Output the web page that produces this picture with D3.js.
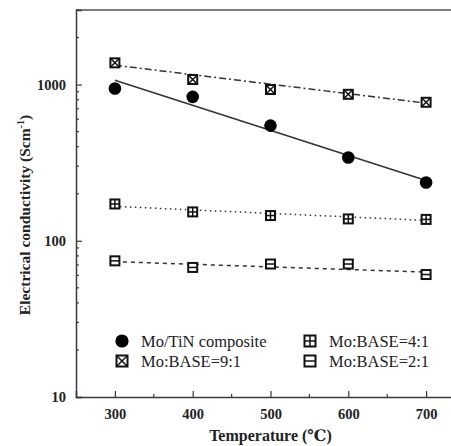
<!DOCTYPE html>
<html>
<head>
<meta charset="utf-8">
<script src="https://cdn.jsdelivr.net/npm/d3@7"></script>
<style>
  body { margin: 0; background: #fff; }
  svg { display: block; }
  text { font-family: "Liberation Serif", "DejaVu Serif", serif; }
</style>
</head>
<body>
<div id="chart"></div>
<script>
// data
const temps = [300, 400, 500, 600, 700];
const mixTiN = [943, 834, 546, 341, 236];     // Mo/TiN composite
const mix91 = [1377, 1077, 929, 866, 770];    // Mo:BASE=9:1
const mix41 = [172, 153, 145, 138, 137];      // Mo:BASE=4:1
const mix21 = [74.4, 67.5, 71, 71, 60.8];     // Mo:BASE=2:1

// fitted lines, start (300) and end (700)
const fitX = [300, 700];
const fitTiN = [1066, 243];
const fit91 = [1330, 760];
const fit41 = [166, 135];
const fit21 = [73.5, 63];

const xTicks = [300, 400, 500, 600, 700];
const yTicks = [10, 100, 1000];

const W = 451, H = 446;
const padLeft = 76, padTop = 10, axisY = 397;

const svg = d3.select("#chart").append("svg")
  .attr("width", W)
  .attr("height", H);

const x = d3.scaleLinear().domain([250, 750]).range([padLeft, padLeft + 389]);
const y = d3.scaleLog().domain([10, 3000]).range([axisY, padTop]);

const axisCol = "#3a3a3a";

// top border (right side is cut off in the picture)
svg.append("line")
  .attr("x1", padLeft).attr("x2", W)
  .attr("y1", padTop).attr("y2", padTop)
  .attr("stroke", "#555").attr("stroke-width", 1.5);

// x axis
const xAx = svg.append("g")
  .attr("transform", `translate(0,${axisY})`)
  .call(d3.axisBottom(x).tickValues(xTicks).tickSize(-6).tickPadding(12).tickFormat(d3.format("d")));
xAx.select(".domain").attr("stroke", axisCol).attr("stroke-width", 1.5);
xAx.selectAll(".tick line").attr("stroke", axisCol).attr("stroke-width", 1.2);
xAx.selectAll("text").attr("font-size", 14.5).attr("font-weight", "bold")
  .attr("fill", "#222").attr("font-family", "Liberation Serif, serif");

// x minor ticks
svg.append("g").selectAll("line")
  .data([350, 450, 550, 650, 750])
  .join("line")
  .attr("x1", d => x(d)).attr("x2", d => x(d))
  .attr("y1", axisY).attr("y2", axisY - 3)
  .attr("stroke", axisCol).attr("stroke-width", 1.2);

// y axis
const yAx = svg.append("g")
  .attr("transform", `translate(${padLeft},0)`)
  .call(d3.axisLeft(y).tickValues(yTicks).tickSize(-6).tickPadding(10).tickFormat(d3.format("d")));
yAx.select(".domain").attr("stroke", axisCol).attr("stroke-width", 1.5);
yAx.selectAll(".tick line").attr("stroke", axisCol).attr("stroke-width", 1.2);
yAx.selectAll("text").attr("font-size", 14.5).attr("font-weight", "bold")
  .attr("fill", "#222").attr("font-family", "Liberation Serif, serif");

// y minor ticks
const minor = [];
[10, 100, 1000].forEach(dec => {
  for (let k = 2; k <= 9; k++) if (dec * k <= 3000) minor.push(dec * k);
});
svg.append("g").selectAll("line")
  .data(minor)
  .join("line")
  .attr("x1", padLeft).attr("x2", padLeft + 3)
  .attr("y1", d => y(d)).attr("y2", d => y(d))
  .attr("stroke", axisCol).attr("stroke-width", 1.2);

// axis titles
svg.append("text")
  .attr("x", x(500)).attr("y", 441)
  .attr("text-anchor", "middle")
  .attr("font-size", 16).attr("font-weight", "bold").attr("fill", "#222")
  .text("Temperature (℃)");

const yl = svg.append("text")
  .attr("transform", "translate(30,215) rotate(-90)")
  .attr("text-anchor", "middle")
  .attr("font-size", 15.5).attr("font-weight", "bold").attr("fill", "#222");
yl.append("tspan").text("Electrical conductivity (Scm");
yl.append("tspan").attr("dy", -6).attr("font-size", 10).text("-1");
yl.append("tspan").attr("dy", 6).text(")");

// fit lines
const fits = [
  { v: fitTiN, dash: null },
  { v: fit91, dash: "7,3,2,3" },
  { v: fit41, dash: "1.5,3.5" },
  { v: fit21, dash: "4,4" }
];
fits.forEach(f => {
  svg.append("path")
    .datum(fitX.map((t, i) => [t, f.v[i]]))
    .attr("d", d3.line().x(d => x(d[0])).y(d => y(d[1])))
    .attr("fill", "none")
    .attr("stroke", "#333")
    .attr("stroke-width", 1.5)
    .attr("stroke-dasharray", f.dash);
});

// marker drawing
function marker(g, kind, cx, cy, s) {
  if (kind === "circle") {
    g.append("circle").attr("cx", cx).attr("cy", cy).attr("r", s * 0.6).attr("fill", "#000");
    return;
  }
  const h = s / 2;
  g.append("rect")
    .attr("x", cx - h).attr("y", cy - h)
    .attr("width", s).attr("height", s)
    .attr("fill", "#fff").attr("stroke", "#111").attr("stroke-width", 2);
  const ln = (x1, y1, x2, y2) => g.append("line")
    .attr("x1", x1).attr("y1", y1).attr("x2", x2).attr("y2", y2)
    .attr("stroke", "#111").attr("stroke-width", 1.5);
  if (kind === "x") {
    ln(cx - h, cy - h, cx + h, cy + h);
    ln(cx - h, cy + h, cx + h, cy - h);
  } else if (kind === "plus") {
    ln(cx, cy - h, cx, cy + h);
    ln(cx - h, cy, cx + h, cy);
  } else if (kind === "minus") {
    ln(cx - h, cy, cx + h, cy);
  }
}

const series = [
  { name: "Mo/TiN composite", v: mixTiN, kind: "circle" },
  { name: "Mo:BASE=9:1", v: mix91, kind: "x" },
  { name: "Mo:BASE=4:1", v: mix41, kind: "plus" },
  { name: "Mo:BASE=2:1", v: mix21, kind: "minus" }
];

series.forEach(s => {
  const g = svg.append("g");
  temps.forEach((t, i) => marker(g, s.kind, x(t), y(s.v[i]), s.kind === "circle" ? 10.5 : 9));
});

// legend
const legPos = [[122, 341], [122, 361], [310, 341], [310, 361]];
series.forEach((s, i) => {
  const [lx, ly] = legPos[i];
  const g = svg.append("g");
  marker(g, s.kind, lx, ly, s.kind === "circle" ? 11 : 11);
  g.append("text")
    .attr("x", lx + 19).attr("y", ly + 2.5)
    .attr("font-size", 16.5).attr("fill", "#222")
    .attr("dominant-baseline", "middle")
    .text(s.name);
});
</script>
</body>
</html>
